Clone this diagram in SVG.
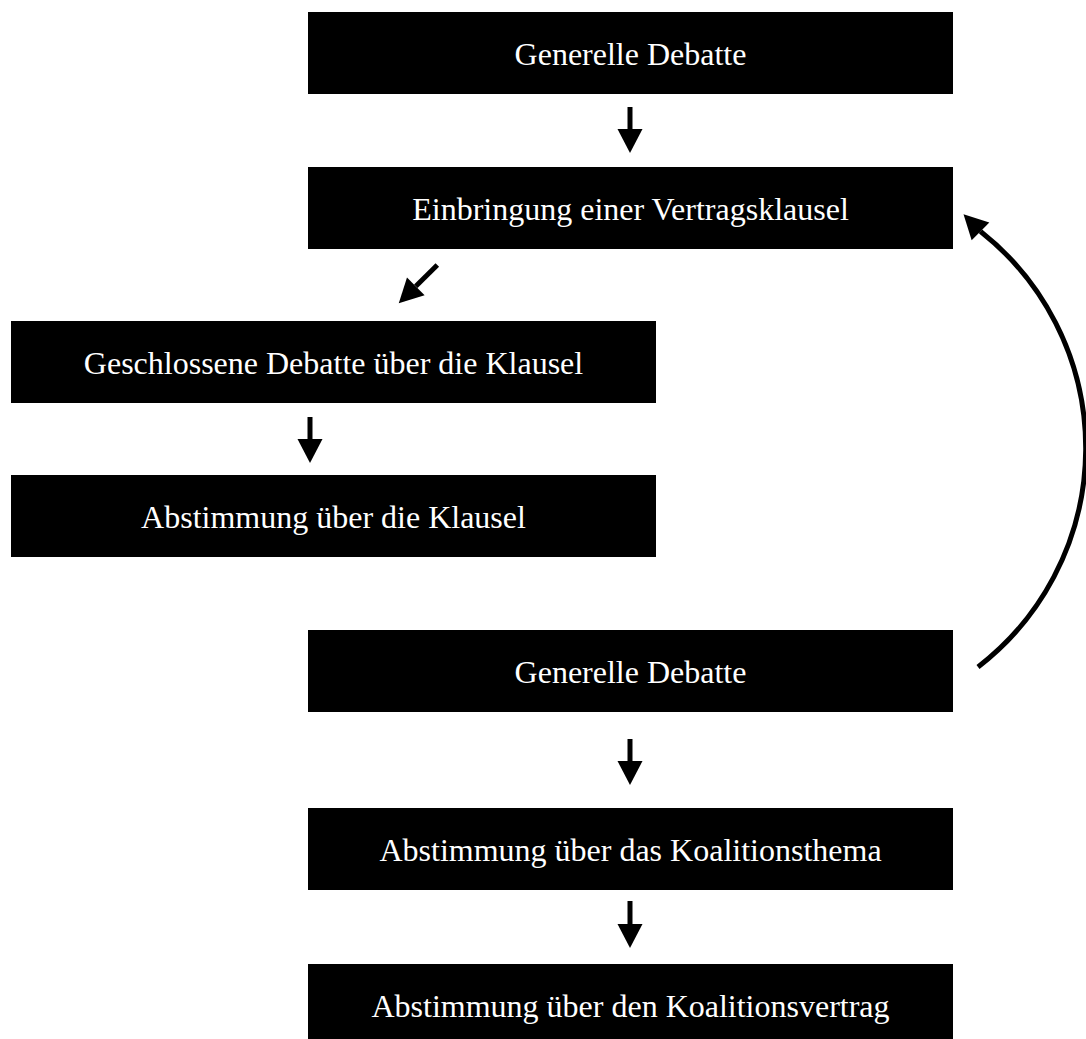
<svg xmlns="http://www.w3.org/2000/svg" width="1086" height="1039" viewBox="0 0 1086 1039">
<style>
.box{fill:#000}
.lbl{fill:#fff;font-family:"Liberation Serif","Times New Roman",serif;font-size:32px;text-anchor:middle}
.conn{fill:none;stroke:#000;stroke-width:5}
</style>
<defs>
<marker id="ah" markerUnits="userSpaceOnUse" viewBox="0 -13 25 26" markerWidth="25" markerHeight="26" refX="0" refY="0" orient="auto" overflow="visible">
<path d="M0,-12.5 L24,0 L0,12.5 Z" fill="#000"/>
</marker>
</defs>
<rect width="1086" height="1039" fill="#fff"/>
<g id="n1"><rect class="box" x="308" y="12" width="645" height="82"/><text class="lbl" x="630.5" y="65">Generelle Debatte</text></g>
<g id="n2"><rect class="box" x="308" y="167" width="645" height="82"/><text class="lbl" x="630.5" y="220">Einbringung einer Vertragsklausel</text></g>
<g id="n3"><rect class="box" x="11" y="321" width="645" height="82"/><text class="lbl" x="333.5" y="374">Geschlossene Debatte über die Klausel</text></g>
<g id="n4"><rect class="box" x="11" y="475" width="645" height="82"/><text class="lbl" x="333.5" y="528">Abstimmung über die Klausel</text></g>
<g id="n5"><rect class="box" x="308" y="630" width="645" height="82"/><text class="lbl" x="630.5" y="683">Generelle Debatte</text></g>
<g id="n6"><rect class="box" x="308" y="808" width="645" height="82"/><text class="lbl" x="630.5" y="861">Abstimmung über das Koalitionsthema</text></g>
<g id="n7"><rect class="box" x="308" y="964" width="645" height="82"/><text class="lbl" x="630.5" y="1017">Abstimmung über den Koalitionsvertrag</text></g>
<g id="connectors">
<path class="conn" d="M630,107 L630,129" marker-end="url(#ah)"/>
<path class="conn" d="M437.3,265 L415.8,286.3" marker-end="url(#ah)"/>
<path class="conn" d="M310,417 L310,439" marker-end="url(#ah)"/>
<path class="conn" d="M630,739 L630,761" marker-end="url(#ah)"/>
<path class="conn" d="M630,901 L630,924" marker-end="url(#ah)"/>
<path class="conn" stroke-width="4.5" d="M978,667 A276,276 0 0 0 981.2,232 L980.5,231.3" marker-end="url(#ah)"/>
</g>
</svg>
